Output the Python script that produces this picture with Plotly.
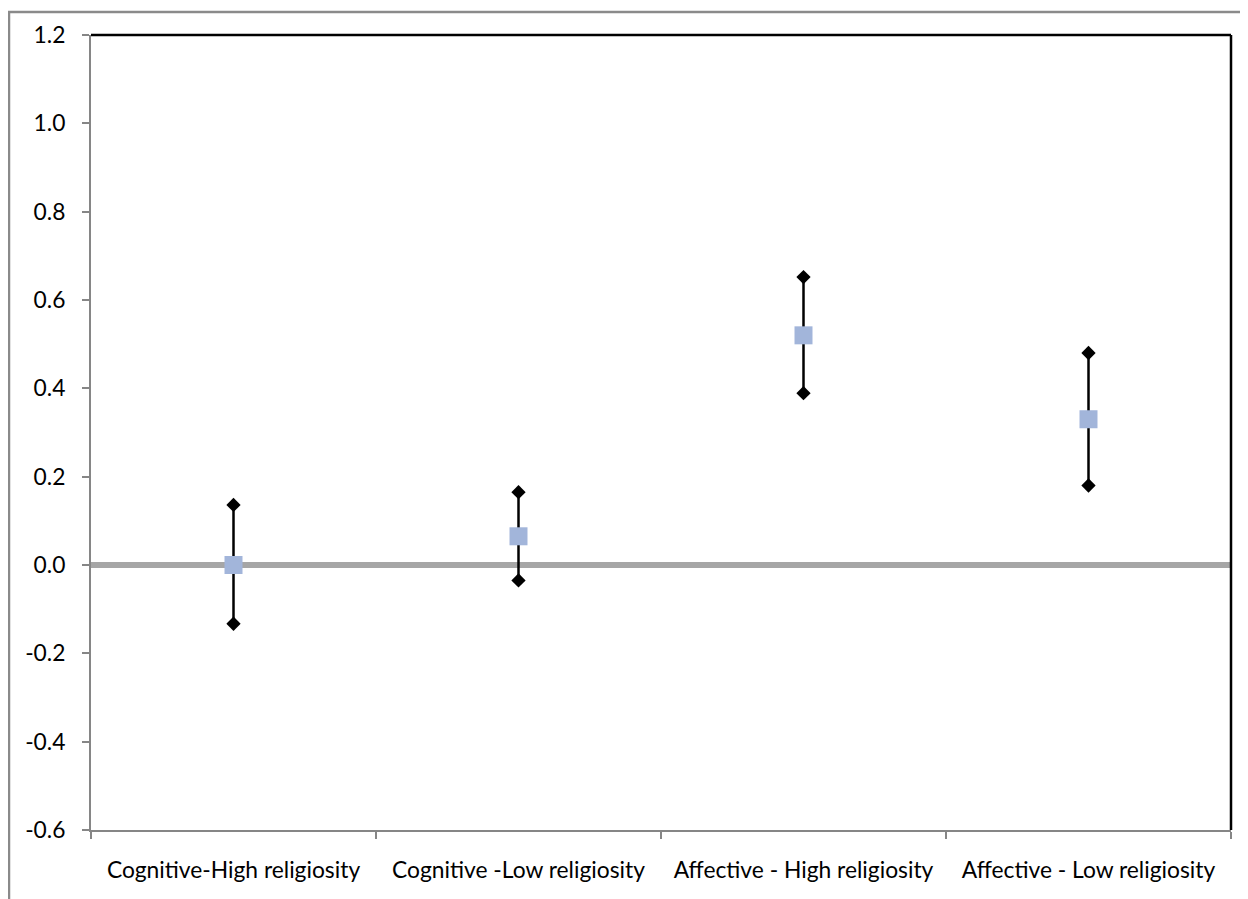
import plotly.graph_objects as go

categories = ["Cognitive-High religiosity", "Cognitive -Low religiosity",
              "Affective - High religiosity", "Affective - Low religiosity"]
means = [0.00, 0.065, 0.52, 0.33]
upper = [0.136, 0.165, 0.652, 0.48]
lower = [-0.133, -0.035, 0.389, 0.18]
ytick_vals = [-0.6, -0.4, -0.2, 0.0, 0.2, 0.4, 0.6, 0.8, 1.0, 1.2]
ytick_text = ["-0.6", "-0.4", "-0.2", "0.0", "0.2", "0.4", "0.6", "0.8", "1.0", "1.2"]

FONT = "Lato"
FS = 22.8

# page body has an 8px default margin; compensate
W, H = 1240, 891
L, T = 83, 24
PW = 1223 - L          # plot width
PH = 822 - T           # plot height

fig = go.Figure()

xs, ys = [], []
for c, lo, hi in zip(categories, lower, upper):
    xs += [c, c, None]
    ys += [hi, lo, None]
fig.add_trace(go.Scatter(
    x=xs, y=ys, mode="lines+markers",
    line=dict(color="black", width=2.5),
    marker=dict(symbol="diamond", size=11, color="black"),
    showlegend=False, hoverinfo="skip", connectgaps=False,
))

fig.add_trace(go.Scatter(
    x=categories, y=means, mode="markers",
    marker=dict(symbol="square", size=18, color="#A2B5DA"),
    showlegend=False,
))

fig.update_layout(
    width=W, height=H,
    margin=dict(l=L, r=W - 1223, t=T, b=H - 822),
    paper_bgcolor="white", plot_bgcolor="white",
    font=dict(family=FONT, size=FS, color="black"),
    xaxis=dict(
        type="category", tickson="boundaries",
        showline=True, linecolor="#868686", linewidth=2,
        ticks="outside", ticklen=7, tickcolor="#868686", tickwidth=2,
        showgrid=False, zeroline=False,
        ticklabelstandoff=19,
        tickfont=dict(family=FONT, size=FS, color="black"),
        range=[-0.5, 3.5],
    ),
    yaxis=dict(
        range=[-0.6, 1.2], tickvals=ytick_vals, ticktext=ytick_text,
        showline=True, linecolor="#868686", linewidth=2,
        ticks="outside", ticklen=7, tickcolor="#868686", tickwidth=2,
        showgrid=False,
        zeroline=True, zerolinecolor="#A6A6A6", zerolinewidth=6,
        ticklabelstandoff=12,
        tickfont=dict(family=FONT, size=FS, color="black"),
    ),
    shapes=[
        dict(type="line", xref="paper", yref="paper", x0=0, x1=1, y0=1, y1=1,
             line=dict(color="black", width=2.5)),
        dict(type="line", xref="paper", yref="paper", x0=1, x1=1, y0=0, y1=1,
             line=dict(color="black", width=2.5)),
        dict(type="rect", xref="paper", yref="paper",
             x0=(1 - L) / PW, x1=1.2, y0=-0.3, y1=(PH + T - 0) / PH - 0.001,
             line=dict(color="#8A8A8A", width=2.5), layer="below"),
    ],
)

fig.write_html("out.html")
